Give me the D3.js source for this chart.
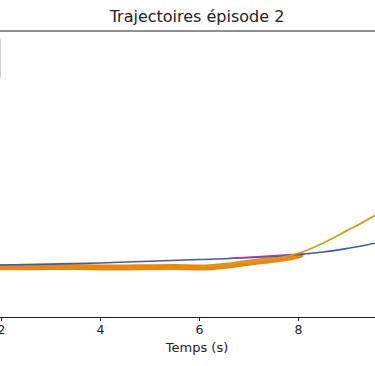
<!DOCTYPE html>
<html>
<head>
<meta charset="utf-8">
<script src="https://cdn.jsdelivr.net/npm/d3@7"></script>
<style>
  body { margin: 0; background: #fff; }
  svg { display: block; font-family: "DejaVu Sans", sans-serif; }
</style>
</head>
<body>
<div id="chart"></div>
<script>
// temps (s) and trajectoires
const tBlue = [1.8, 3, 4, 5, 6, 7, 7.5, 8, 8.5, 9, 9.3, 9.7]
const yBlue = [1.81, 1.85, 1.89, 1.95, 2.01, 2.07, 2.12, 2.18, 2.27, 2.4, 2.49, 2.65]

const tPurple = [6.6, 7, 7.5, 7.9]
const yPurple = [2.05, 2.09, 2.14, 2.19]

const tOrange = [1.8, 2.5, 3, 3.5, 4, 4.5, 5, 5.5, 6, 6.3, 6.6, 7, 7.3, 7.6, 7.9, 8.05]
const yOrange = [1.74, 1.74, 1.745, 1.745, 1.735, 1.73, 1.74, 1.745, 1.73, 1.75, 1.8, 1.9, 1.96, 2.02, 2.1, 2.17]

const tGold = [6, 6.5, 7, 7.5, 7.8, 8, 8.5, 9, 9.3, 9.7]
const yGold = [1.76, 1.82, 1.93, 2.04, 2.13, 2.22, 2.58, 3.03, 3.3, 3.7]

const xTicks = [2, 4, 6, 8]
const title = 'Trajectoires épisode 2'
const xLabel = 'Temps (s)'

const width = 375, height = 366
const axTop = 31, axBottom = 317

const svg = d3.select('#chart').append('svg')
    .attr('width', width)
    .attr('height', height)

// axes box continues off the picture on both sides
let x = d3.scaleLinear()
    .domain([0, 10])
    .range([-98, 397])

let y = d3.scaleLinear()
    .domain([0, 10])
    .range([axBottom, axTop])

const line = d3.line()
    .x(d => x(d[0]))
    .y(d => y(d[1]))
    .curve(d3.curveMonotoneX)

const zip = (a, b) => a.map((v, i) => [v, b[i]])

svg.append('path')
    .datum(zip(tOrange, yOrange))
    .attr('d', line)
    .attr('fill', 'none')
    .attr('stroke', '#e8890f')
    .attr('stroke-width', 6)
    .attr('stroke-linecap', 'round')

svg.append('path')
    .datum(zip(tBlue, yBlue))
    .attr('d', line)
    .attr('fill', 'none')
    .attr('stroke', '#3c5ab4')
    .attr('stroke-width', 1.6)

svg.append('path')
    .datum(zip(tPurple, yPurple))
    .attr('d', line)
    .attr('fill', 'none')
    .attr('stroke', '#a03cb4')
    .attr('stroke-width', 1.4)

svg.append('path')
    .datum(zip(tGold, yGold))
    .attr('d', line)
    .attr('fill', 'none')
    .attr('stroke', '#d2a018')
    .attr('stroke-width', 1.8)

// legend box, mostly off to the left
svg.append('rect')
    .attr('x', -120)
    .attr('y', 37.5)
    .attr('width', 120.5)
    .attr('height', 42)
    .attr('rx', 3)
    .attr('fill', '#fff')
    .attr('stroke', '#d0d0d0')

// spines
svg.append('line')
    .attr('x1', 0).attr('x2', width)
    .attr('y1', axTop).attr('y2', axTop)
    .attr('stroke', '#222').attr('stroke-width', 1.2)

let xAxis = svg.append('g')
    .attr('transform', `translate(0, ${axBottom})`)
    .call(d3.axisBottom(x).tickValues(xTicks).tickSize(4).tickPadding(4).tickFormat(d3.format('d')))

xAxis.select('.domain').attr('stroke', '#222').attr('stroke-width', 1.2)
xAxis.selectAll('.tick line').attr('stroke', '#222')
xAxis.selectAll('.tick text').attr('font-size', 12.5).attr('fill', '#222')
    .attr('font-family', '"DejaVu Sans", sans-serif')

svg.append('text')
    .attr('x', 197)
    .attr('y', 352)
    .attr('text-anchor', 'middle')
    .attr('font-size', 13)
    .attr('fill', '#222')
    .text(xLabel)

svg.append('text')
    .attr('x', 197)
    .attr('y', 22)
    .attr('text-anchor', 'middle')
    .attr('font-size', 16)
    .attr('fill', '#222')
    .text(title)
</script>
</body>
</html>
